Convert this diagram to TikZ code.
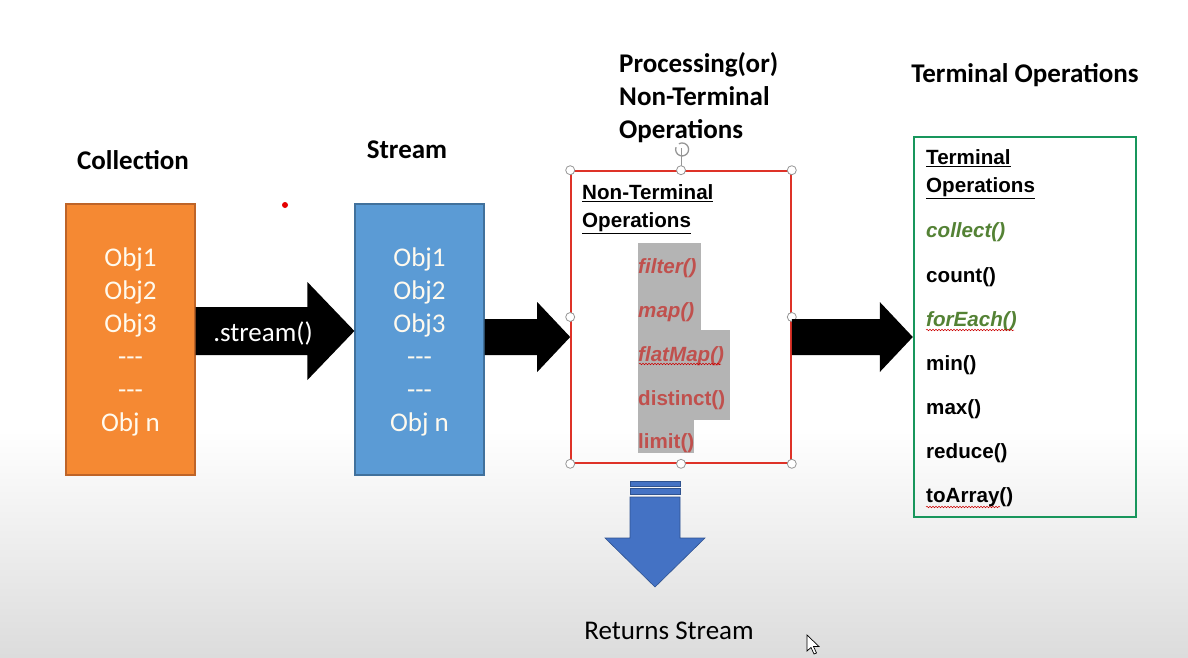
\documentclass[tikz,border=0pt]{standalone}
\usepackage{fontspec}
\setmainfont{Carlito}
\newfontfamily\arialf{Liberation Sans}
\usetikzlibrary{calc,decorations.pathmorphing}
\definecolor{orgfill}{RGB}{245,137,51}
\definecolor{orgdraw}{RGB}{190,100,40}
\definecolor{bluefill}{RGB}{91,155,213}
\definecolor{bluedraw}{RGB}{65,113,156}
\definecolor{redtxt}{RGB}{192,80,77}
\definecolor{redbox}{RGB}{222,50,40}
\definecolor{greenbox}{RGB}{24,150,92}
\definecolor{greentxt}{RGB}{84,130,53}
\definecolor{hlgray}{RGB}{180,180,180}
\definecolor{darrow}{RGB}{68,114,196}
\definecolor{darrowd}{RGB}{47,82,143}
\definecolor{handle}{RGB}{150,150,150}
\definecolor{bgbottom}{RGB}{220,220,220}
\definecolor{boxtxt}{RGB}{255,250,238}
\tikzset{
  objbox/.style={minimum width=129pt, minimum height=271pt, line width=1.2pt, inner sep=0pt},
  objtxt/.style={text=boxtxt, align=center, inner sep=0pt, font=\fontsize{27}{33}\selectfont},
  title/.style={font=\fontsize{27}{33}\selectfont\bfseries, inner sep=0pt},
  opitem/.style={anchor=west, inner sep=0pt, yshift=-2.5pt, font=\arialf\fontsize{20.6}{24}\selectfont\bfseries},
  blockarrow/.style={fill=black},
  hnd/.style={draw=handle, fill=white, line width=0.8pt},
  squig/.style={draw=red!80!black, line width=0.5pt, decorate,
    decoration={snake, amplitude=0.8pt, segment length=3pt}}
}
\begin{document}
\begin{tikzpicture}[x=1pt,y=-1pt]
\useasboundingbox (0,0) rectangle (1188,657);
\fill[white] (0,0) rectangle (1188,657);
\shade[top color=white, bottom color=bgbottom] (0,430) rectangle (1188,657);

% titles
\node[title] (tcoll) at (133,160) {Collection};
\node[title] (tstrm) at (407,150) {Stream};
\node[title, anchor=west, align=left] (tproc) at (619,98) {Processing(or)\\Non-Terminal\\Operations};
\node[title] (tterm) at (1025,75) {Terminal Operations};

% collection and stream boxes
\node[objbox, fill=orgfill, draw=orgdraw] (coll) at (130.5,339.5) {};
\node[objtxt] (colltxt) at ($(coll.center)+(0,2.5)$)
  {Obj1\\Obj2\\Obj3\\-{}-{}-\\-{}-{}-\\Obj n};
\node[objbox, fill=bluefill, draw=bluedraw] (strm) at (419.5,339.5) {};
\node[objtxt] (strmtxt) at ($(strm.center)+(0,2.5)$)
  {Obj1\\Obj2\\Obj3\\-{}-{}-\\-{}-{}-\\Obj n};

% red dot
\fill[red!90!black] (285,205) circle (3);

% non-terminal box
\node[draw=redbox, line width=1.6pt, minimum width=220pt, minimum height=292pt, inner sep=0pt] (nt) at (681,317) {};
\fill[hlgray] (638,243) rectangle (701,330);
\fill[hlgray] (638,330) rectangle (730,420);
\fill[hlgray] (638,420) rectangle (694,453);
\node[opitem, align=left, font=\arialf\fontsize{20.6}{28}\selectfont\bfseries] (nthead) at (582,207)
  {\underline{Non-Terminal}\\\underline{Operations}};
\node[opitem, text=redtxt] (filter) at (638,266) {\itshape filter()};
\node[opitem, text=redtxt] (map) at (638,310) {\itshape map()};
\node[opitem, text=redtxt] (flatmap) at (638,354) {\itshape flatMap()};
\node[opitem, text=redtxt] (distinct) at (638,398) {distinct()};
\node[opitem, text=redtxt] (limit) at (638,441) {limit()};
\draw[squig] (639,364) -- (721,364);

% selection handles
\draw[handle, line width=0.8pt] (nt.north) -- ++(0,-22) coordinate (rot);
\draw[handle, line width=1.3pt] ($(rot)+(-5,-1)$) arc[start angle=200, end angle=-120, radius=6.5];
\foreach \a in {north west,north,north east,east,south east,south,south west,west}
  \draw[hnd] (nt.\a) circle (4.5);

% terminal box
\node[draw=greenbox, line width=2.4pt, minimum width=222pt, minimum height=380pt, inner sep=0pt] (term) at (1025,327) {};
\node[opitem, align=left, font=\arialf\fontsize{20.6}{28}\selectfont\bfseries] (thead) at (926,172)
  {\underline{Terminal}\\\underline{Operations}};
\node[opitem, text=greentxt] (collect) at (926,230) {\itshape collect()};
\node[opitem] (count) at (926,275) {count()};
\node[opitem, text=greentxt] (foreach) at (926,319) {\itshape forEach()};
\node[opitem] (min) at (926,363) {min()};
\node[opitem] (max) at (926,407) {max()};
\node[opitem] (reduce) at (926,451) {reduce()};
\node[opitem] (toarray) at (926,495) {toArray()};
\draw[squig] (926,330) -- (1014,330);
\draw[squig] (926,507) -- (1000,507);

% block arrows
\coordinate (a1s) at (coll.east |- 0,331);
\coordinate (a1e) at (strm.west |- 0,331);
\fill[blockarrow] ($(a1s)+(0,-24)$) -- ($(a1e)+(-47,-24)$) -- ($(a1e)+(-47,-49)$) -- (a1e)
  -- ($(a1e)+(-47,49)$) -- ($(a1e)+(-47,24)$) -- ($(a1s)+(0,24)$) -- cycle;
\node[text=white, font=\fontsize{27}{33}\selectfont, inner sep=0pt] (lstream) at (263,333) {.stream()};

\coordinate (a2s) at (strm.east |- 0,337);
\coordinate (a2e) at (nt.west |- 0,337);
\fill[blockarrow] ($(a2s)+(0,-18)$) -- ($(a2e)+(-33,-18)$) -- ($(a2e)+(-33,-35)$) -- (a2e)
  -- ($(a2e)+(-33,35)$) -- ($(a2e)+(-33,18)$) -- ($(a2s)+(0,18)$) -- cycle;

\coordinate (a3s) at (nt.east |- 0,337);
\coordinate (a3e) at (term.west |- 0,337);
\fill[blockarrow] ($(a3s)+(0,-18)$) -- ($(a3e)+(-33,-18)$) -- ($(a3e)+(-33,-35)$) -- (a3e)
  -- ($(a3e)+(-33,35)$) -- ($(a3e)+(-33,18)$) -- ($(a3s)+(0,18)$) -- cycle;

% down arrow
\filldraw[fill=darrow, draw=darrowd, line width=0.6pt] (630,481) rectangle (680,486);
\filldraw[fill=darrow, draw=darrowd, line width=0.6pt] (630,488) rectangle (680,494);
\filldraw[fill=darrow, draw=darrowd, line width=0.6pt] (630,497) -- (680,497) -- (680,538) -- (705,538)
  -- (655,587) -- (605,538) -- (630,538) -- cycle;
\node[font=\fontsize{27}{33}\selectfont, inner sep=0pt] (ret) at (669,631) {Returns Stream};

% mouse cursor
\filldraw[fill=white, draw=black, line width=0.7pt] (807,635) -- (807,651) -- (811,647.5) -- (814,654)
  -- (816.5,653) -- (813.5,646.5) -- (819,646.5) -- cycle;
\end{tikzpicture}
\end{document}
